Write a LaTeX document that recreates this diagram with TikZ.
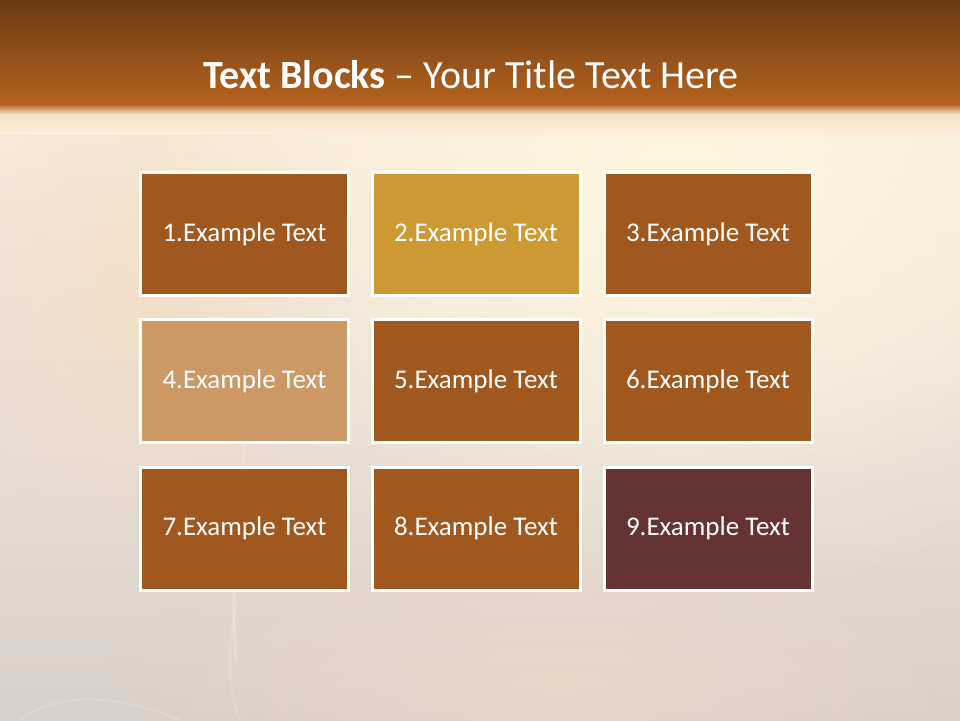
\documentclass[tikz,border=0pt]{standalone}
\usepackage{fontspec}
\setmainfont{Carlito}
\usetikzlibrary{fadings}
\definecolor{boxbrown}{HTML}{A0581F}
\definecolor{boxgold}{HTML}{CC9933}
\definecolor{boxtan}{HTML}{CC9966}
\definecolor{boxmaroon}{HTML}{663333}
\definecolor{bartop}{HTML}{6B3C14}
\definecolor{barbot}{HTML}{B5621F}
\definecolor{bgtop}{HTML}{FBEFDC}
\definecolor{bgbot}{HTML}{D8D0CB}
\definecolor{bgcream}{HTML}{FFF8E0}
\definecolor{bgpeach}{HTML}{F8DCC0}
\tikzfading[name=softcircle, inner color=transparent!0, outer color=transparent!100]
\tikzset{
  textblock/.style={draw=white, line width=3pt, minimum width=208pt, minimum height=123pt,
    inner sep=0pt, text=white, font=\fontsize{27}{32}\selectfont},
  wisp/.style={white, opacity=0.22, line width=3pt, line cap=round}
}
\begin{document}
\begin{tikzpicture}[x=1pt,y=-1pt]
\useasboundingbox (0,0) rectangle (960,720);
% background
\shade[top color=bgtop, bottom color=bgbot] (0,0) rectangle (960,720);
\fill[bgcream, opacity=0.95, path fading=softcircle] (680,200) ellipse (560 and 400);
\fill[bgpeach, opacity=0.6, path fading=softcircle] (150,300) ellipse (200 and 260);
\fill[bgpeach, opacity=0.45, path fading=softcircle] (560,690) ellipse (460 and 160);
% smoke wisps
\draw[wisp] (245,445) .. controls (238,520) and (230,580) .. (236,660);
\draw[wisp, opacity=0.15, line width=2pt] (238,600) .. controls (225,650) and (228,690) .. (240,720);
\draw[wisp, opacity=0.15, line width=2pt] (20,720) .. controls (60,690) and (120,695) .. (180,720);
% title bar
\shade[top color=bartop, bottom color=barbot] (0,0) rectangle (960,104);
\shade[top color=barbot, bottom color=bgcream!85!barbot] (0,104) rectangle (960,114);
\shade[top color=bgcream!85!barbot, bottom color=bgtop] (0,114) rectangle (960,134);
\node[text=white, font=\fontsize{40}{46}\selectfont] (title) at (471,75)
  {\textbf{Text Blocks} – Your Title Text Here};
% blocks
\node[textblock, fill=boxbrown]  (b1) at (244.5,234) {1.Example Text};
\node[textblock, fill=boxgold]   (b2) at (476,234)   {2.Example Text};
\node[textblock, fill=boxbrown]  (b3) at (708,234)   {3.Example Text};
\node[textblock, fill=boxtan]    (b4) at (244.5,381) {4.Example Text};
\node[textblock, fill=boxbrown]  (b5) at (476,381)   {5.Example Text};
\node[textblock, fill=boxbrown]  (b6) at (708,381)   {6.Example Text};
\node[textblock, fill=boxbrown]  (b7) at (244.5,528.5) {7.Example Text};
\node[textblock, fill=boxbrown]  (b8) at (476,528.5)   {8.Example Text};
\node[textblock, fill=boxmaroon] (b9) at (708,528.5)   {9.Example Text};
\end{tikzpicture}
\end{document}
